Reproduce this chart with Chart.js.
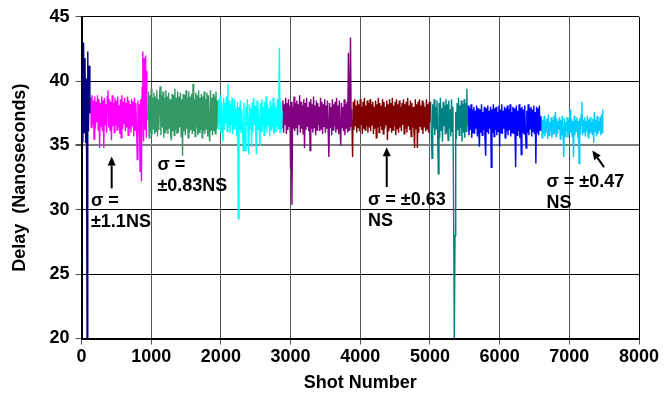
<!DOCTYPE html>
<html>
<head>
<meta charset="utf-8">
<script src="https://cdn.jsdelivr.net/npm/chart.js@4.4.1/dist/chart.umd.min.js"></script>
<style>
  html, body { margin: 0; padding: 0; background: #fff; }
</style>
</head>
<body>
<canvas id="delayChart" width="671" height="395"></canvas>
<script>
// shots are logged every 10 shots, each run starts at its own shot number
const shotStep = 10;

const navyStart = 0;
const navyValues = [37.0, 35.3, 40.5, 43.0, 36.0, 41.8, 35.2, 40.2, 20.0, 42.3, 36.1, 41.2, 37.5];

const magentaStart = 120;
const magentaValues = [
  37.6, 38.7, 36.4, 38.9, 36.6, 38.5, 35.5, 38.8, 36.3, 38.4,
  36.8, 38.9, 36.2, 38.6, 34.8, 38.3, 36.5, 38.8, 36.1, 38.5,
  34.8, 38.7, 36.6, 38.2, 36.0, 38.8, 39.3, 36.4, 38.6, 36.2,
  38.4, 35.4, 38.9, 36.5, 38.3, 36.0, 38.7, 36.6, 38.5, 36.2,
  38.8, 36.4, 38.1, 35.9, 38.6, 35.6, 38.9, 36.3, 38.4, 36.7,
  38.7, 36.1, 38.3, 36.4, 38.8, 35.8, 38.5, 36.3, 38.2, 36.0,
  38.6, 36.5, 38.4, 35.7, 38.7, 36.2, 38.3, 36.4, 33.9, 38.5,
  36.0, 38.2, 33.0, 38.6, 32.2, 39.5, 42.3, 35.3, 41.8, 36.2,
  42.0, 35.6, 40.8
];

const greenStart = 950;
const greenValues = [
  37.0, 39.2, 35.6, 38.9, 36.0, 39.4, 35.8, 38.7, 36.3, 39.1,
  35.9, 38.8, 36.1, 39.3, 35.7, 38.6, 36.2, 39.0, 39.6, 35.8,
  38.9, 36.4, 39.2, 35.6, 38.7, 36.0, 39.3, 36.2, 38.8, 35.9,
  39.1, 36.3, 38.6, 35.7, 35.4, 39.0, 36.1, 38.9, 35.8, 39.4,
  36.2, 38.7, 35.9, 39.2, 36.0, 38.8, 36.4, 39.1, 35.7, 38.6,
  34.2, 39.0, 36.1, 38.9, 35.8, 39.3, 36.3, 38.7, 35.6, 39.2,
  36.0, 38.8, 36.2, 39.0, 35.9, 39.8, 36.1, 38.6, 35.7, 39.1,
  36.4, 38.9, 35.8, 39.3, 36.0, 38.7, 36.2, 39.0, 35.6, 38.8,
  36.1, 39.2, 35.9, 38.6, 36.3, 39.1, 35.7, 38.9, 36.0, 35.3,
  39.3, 36.2, 38.7, 35.8, 39.0, 36.1, 38.8, 35.9, 39.2, 36.3,
  38.5
];

const cyanStart = 1950;
const cyanValues = [
  37.8, 36.3, 38.6, 36.6, 38.9, 36.0, 38.4, 36.5, 35.3, 38.7,
  36.2, 38.3, 36.7, 38.8, 36.1, 39.8, 36.4, 38.5, 36.0, 38.2,
  36.6, 38.7, 35.9, 38.1, 36.3, 38.6, 36.5, 37.9, 35.7, 38.4,
  29.3, 38.0, 36.2, 38.5, 36.0, 37.8, 36.4, 34.6, 38.3, 36.1,
  34.6, 38.0, 36.5, 38.6, 35.8, 34.3, 38.2, 36.3, 37.9, 34.9,
  38.4, 36.0, 38.7, 36.6, 38.1, 35.9, 34.3, 38.5, 36.2, 37.8,
  36.4, 35.0, 38.3, 36.1, 38.6, 36.5, 38.0, 35.8, 38.4, 36.3,
  38.8, 36.0, 38.2, 36.6, 37.9, 35.7, 38.5, 36.2, 38.1, 36.4,
  38.7, 35.9, 38.3, 36.1, 38.0, 36.5, 38.6, 36.3, 38.2, 42.6,
  36.0, 38.4, 36.2, 37.7
];

const purpleStart = 2880;
const purpleValues = [
  36.4, 38.5, 36.0, 38.2, 36.6, 38.7, 35.9, 38.3, 36.2, 38.6,
  36.5, 38.1, 33.2, 38.4, 30.4, 38.0, 36.3, 38.8, 36.1, 38.3,
  36.4, 38.5, 35.8, 38.2, 36.6, 38.9, 36.0, 38.4, 36.3, 38.1,
  35.9, 38.6, 34.8, 38.3, 36.2, 38.7, 36.5, 38.0, 36.1, 38.4,
  34.6, 38.6, 36.3, 38.2, 36.0, 38.8, 36.4, 38.1, 35.8, 38.5,
  36.2, 38.3, 36.6, 38.0, 36.1, 38.7, 36.3, 38.4, 35.9, 38.2,
  36.5, 38.6, 36.0, 38.1, 36.3, 38.5, 36.1, 34.1, 38.3, 36.4,
  38.0, 35.8, 38.6, 36.2, 38.2, 36.5, 38.4, 36.0, 38.7, 36.3,
  38.1, 35.9, 38.5, 36.2, 35.0, 38.3, 36.4, 38.0, 36.1, 38.6,
  35.8, 38.2, 36.3, 38.4, 36.0, 42.2, 36.2, 38.3, 43.4, 36.5,
  37.8
];

const maroonStart = 3880;
const maroonValues = [
  37.0, 34.1, 38.4, 36.2, 38.6, 36.5, 38.1, 36.0, 38.5, 36.4,
  38.2, 36.1, 38.6, 36.6, 38.0, 35.9, 38.4, 36.3, 38.7, 36.2,
  38.1, 36.5, 38.5, 36.0, 38.3, 36.4, 38.6, 36.1, 38.2, 36.6,
  38.4, 35.9, 38.0, 36.3, 38.5, 35.6, 38.2, 36.4, 38.7, 36.0,
  38.3, 36.5, 38.1, 36.2, 38.6, 35.9, 38.4, 36.3, 38.0, 36.6,
  38.5, 35.4, 38.2, 36.1, 38.6, 36.4, 38.3, 36.0, 38.7, 36.2,
  38.1, 36.5, 38.4, 35.8, 38.6, 36.3, 38.2, 36.0, 38.5, 36.4,
  38.0, 36.1, 38.3, 36.6, 38.6, 35.9, 38.2, 36.3, 38.4, 36.0,
  38.7, 36.5, 38.1, 36.2, 38.5, 35.7, 38.3, 36.4, 38.0, 36.1,
  34.8, 38.6, 36.3, 38.2, 34.8, 38.4, 36.0, 38.6, 36.5, 38.1,
  36.2, 38.5, 35.9, 38.3, 36.4, 38.0, 36.1, 38.6, 36.3, 38.2,
  36.0, 38.4, 36.8
];

const tealStart = 5000;
const tealValues = [
  37.2, 38.4, 36.0, 34.0, 38.2, 36.4, 38.6, 35.8, 38.0, 36.3,
  38.5, 36.1, 32.8, 38.3, 35.6, 38.7, 36.2, 37.9, 35.3, 38.4,
  36.5, 38.1, 35.9, 38.6, 36.0, 38.2, 35.4, 38.5, 36.3, 37.8,
  35.7, 38.6, 36.1, 38.0, 29.5, 20.0, 28.0, 37.6, 35.5, 38.3,
  36.2, 38.7, 35.8, 38.1, 36.4, 38.5, 35.3, 38.2, 36.0, 38.6,
  35.6, 38.3, 36.1, 39.4, 36.5
];

const blueStart = 5540;
const blueValues = [
  37.0, 38.1, 35.8, 37.9, 36.2, 38.2, 35.6, 37.8, 36.0, 38.0,
  35.9, 37.7, 36.3, 38.1, 35.7, 37.9, 36.1, 34.9, 37.8, 36.0,
  38.2, 35.8, 37.6, 36.2, 38.0, 35.5, 34.2, 37.9, 36.1, 38.1,
  35.9, 37.7, 36.3, 38.0, 33.3, 37.8, 36.0, 38.2, 35.7, 37.9,
  36.2, 38.0, 35.8, 37.6, 36.1, 38.1, 34.9, 37.8, 36.0, 38.2,
  35.9, 37.7, 36.3, 38.0, 35.6, 37.9, 36.1, 38.1, 35.8, 37.8,
  36.2, 38.2, 35.7, 37.6, 36.0, 38.0, 35.9, 37.9, 36.2, 33.3,
  38.1, 35.8, 37.7, 36.1, 38.2, 35.6, 37.9, 34.3, 38.0, 36.0,
  37.8, 35.9, 38.1, 36.2, 34.8, 37.7, 36.0, 38.2, 35.8, 37.9,
  36.3, 38.0, 35.7, 37.8, 36.1, 38.1, 35.9, 37.6, 33.6, 38.0,
  36.0, 37.9, 35.8, 38.1, 36.2, 37.3
];

const skyStart = 6590;
const skyValues = [
  36.5, 37.2, 35.6, 37.0, 35.9, 37.3, 35.7, 36.9, 36.0, 37.1,
  35.5, 37.4, 35.8, 36.8, 36.1, 37.2, 35.6, 37.0, 35.9, 37.3,
  36.0, 37.6, 35.7, 37.1, 35.9, 36.9, 36.2, 37.2, 35.5, 37.0,
  35.8, 37.3, 36.0, 34.1, 37.1, 35.7, 36.8, 36.1, 37.2, 35.6,
  37.0, 35.9, 37.8, 36.0, 37.1, 35.7, 36.9, 34.1, 37.3, 35.8,
  37.0, 36.1, 37.2, 35.6, 36.9, 33.6, 37.1, 35.9, 37.4, 38.4,
  35.8, 37.0, 36.0, 37.2, 35.7, 36.9, 36.1, 37.3, 35.6, 37.0,
  35.9, 37.2, 36.0, 36.8, 35.8, 37.1, 35.2, 37.6, 36.1, 37.0,
  35.7, 37.3, 35.9, 36.9, 36.2, 37.2, 35.8, 37.4, 36.0, 37.8
];

const xTickValues = [0, 1000, 2000, 3000, 4000, 5000, 6000, 7000, 8000];
const yTickValues = [20, 25, 30, 35, 40, 45];

// sigma notes, placed in data units (first line), arrows from tail to head
const notes = [
  { x: 136, y: 30.65, lines: ['σ =', '±1.1NS'] },
  { x: 1090, y: 33.45, lines: ['σ =', '±0.83NS'] },
  { x: 4111, y: 30.74, lines: ['σ = ±0.63', 'NS'] },
  { x: 6673, y: 32.13, lines: ['σ = ±0.47', 'NS'] }
];
const arrows = [
  { x1: 433, y1: 31.67, x2: 433, y2: 34.15 },
  { x1: 4380, y1: 31.77, x2: 4380, y2: 34.87 },
  { x1: 7498, y1: 33.32, x2: 7330, y2: 34.61 }
];

const runs = [
  { start: navyStart, values: navyValues, color: '#000080' },
  { start: magentaStart, values: magentaValues, color: '#FF00FF' },
  { start: greenStart, values: greenValues, color: '#339966' },
  { start: cyanStart, values: cyanValues, color: '#00FFFF' },
  { start: purpleStart, values: purpleValues, color: '#800080' },
  { start: maroonStart, values: maroonValues, color: '#800000' },
  { start: tealStart, values: tealValues, color: '#008080' },
  { start: blueStart, values: blueValues, color: '#0000FF' },
  { start: skyStart, values: skyValues, color: '#00CCFF' }
];

const datasets = runs.map(run => ({
  data: run.values.map((v, i) => ({ x: run.start + i * shotStep, y: v })),
  borderColor: run.color,
  borderWidth: 1.4,
  pointRadius: 0,
  fill: false,
  tension: 0
}));

const boldFont = { family: "'Liberation Sans', Arial, sans-serif", size: 18, weight: 'bold' };

const notesPlugin = {
  id: 'sigmaNotes',
  afterDatasetsDraw(chart) {
    const { ctx, scales: { x, y } } = chart;
    ctx.save();
    ctx.fillStyle = '#000';
    ctx.font = "bold 18px 'Liberation Sans', Arial, sans-serif";
    ctx.textAlign = 'left';
    ctx.textBaseline = 'middle';
    notes.forEach(n => {
      const px = x.getPixelForValue(n.x);
      const py = y.getPixelForValue(n.y);
      n.lines.forEach((t, i) => ctx.fillText(t, px, py + i * 21));
    });

    ctx.strokeStyle = '#000';
    ctx.lineWidth = 2;
    arrows.forEach(a => {
      const x1 = x.getPixelForValue(a.x1), y1 = y.getPixelForValue(a.y1);
      const x2 = x.getPixelForValue(a.x2), y2 = y.getPixelForValue(a.y2);
      const ang = Math.atan2(y2 - y1, x2 - x1);
      const head = 9, half = 4;
      const bx = x2 - head * Math.cos(ang), by = y2 - head * Math.sin(ang);
      ctx.beginPath();
      ctx.moveTo(x1, y1);
      ctx.lineTo(bx, by);
      ctx.stroke();
      ctx.beginPath();
      ctx.moveTo(x2, y2);
      ctx.lineTo(bx - half * Math.sin(ang), by + half * Math.cos(ang));
      ctx.lineTo(bx + half * Math.sin(ang), by - half * Math.cos(ang));
      ctx.closePath();
      ctx.fill();
    });
    ctx.restore();
  }
};

new Chart(document.getElementById('delayChart'), {
  type: 'line',
  data: { datasets },
  options: {
    responsive: false,
    animation: false,
    devicePixelRatio: 1,
    layout: { padding: { top: 16, right: 32, bottom: 0, left: 0 } },
    plugins: { legend: { display: false }, tooltip: { enabled: false } },
    scales: {
      x: {
        type: 'linear',
        min: 0,
        max: 8000,
        afterBuildTicks: s => { s.ticks = xTickValues.map(v => ({ value: v })); },
        afterFit: s => { s.height = 56.5; },
        ticks: { color: '#000', font: boldFont, padding: 2, maxRotation: 0, callback: v => String(v) },
        grid: {
          color: c => (c.tick && c.tick.value === 8000 ? '#000' : '#555'),
          tickColor: '#555',
          tickLength: 6
        },
        border: { color: '#000', width: 2 },
        title: { display: true, text: 'Shot Number', color: '#000', font: boldFont, padding: { top: 0, bottom: 1 } }
      },
      y: {
        min: 20,
        max: 45,
        afterBuildTicks: s => { s.ticks = yTickValues.map(v => ({ value: v })); },
        afterFit: s => { s.width = 81.5; },
        ticks: { color: '#000', font: boldFont, padding: 6, callback: v => String(v) },
        grid: {
          color: c => (c.tick && c.tick.value === 35 ? '#808080' : '#000'),
          lineWidth: c => (c.tick && c.tick.value === 35 ? 2 : 1),
          tickColor: '#555',
          tickLength: 6
        },
        border: { color: '#000', width: 2 },
        title: { display: true, text: 'Delay  (Nanoseconds)', color: '#000', font: boldFont, padding: { top: 9, bottom: 0 } }
      }
    }
  },
  plugins: [notesPlugin]
});
</script>
</body>
</html>
